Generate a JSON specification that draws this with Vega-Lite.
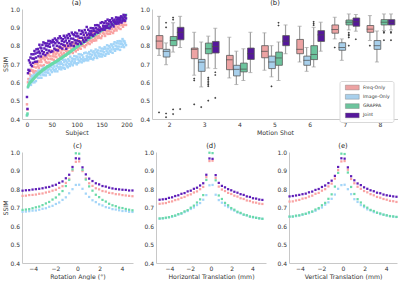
{
"$schema":"https://vega.github.io/schema/vega-lite/v6.json",
"padding":{"left":2,"top":0,"right":0,"bottom":0},
"background":"white",
"config":{"font":"DejaVu Sans","view":{"stroke":null},
"axis":{"grid":false,"domainColor":"#c8c8c8","domainWidth":1,"ticks":false,"labelFontSize":6,"labelColor":"#333333","titleFontSize":6.2,"titleFontWeight":"normal","titleColor":"#333333","labelPadding":2.5,"titlePadding":1.5,"labelOverlap":false,"labelSeparation":0},
"title":{"fontSize":6.8,"fontWeight":"normal","color":"#222222","offset":-1}},
"datasets":{
"subj":[
{"s":0,"f":0.48,"i":0.42,"g":0.42,"j":0.52},{"s":1,"f":0.452,"i":0.425,"g":0.43,"j":0.455},{"s":2,"f":0.6,"i":0.572,"g":0.575,"j":0.65},{"s":3,"f":0.618,"i":0.58,"g":0.583,"j":0.668},{"s":4,"f":0.605,"i":0.59,"g":0.589,"j":0.72},
{"s":5,"f":0.648,"i":0.61,"g":0.594,"j":0.663},{"s":6,"f":0.617,"i":0.596,"g":0.598,"j":0.708},{"s":7,"f":0.638,"i":0.621,"g":0.601,"j":0.735},{"s":8,"f":0.669,"i":0.586,"g":0.604,"j":0.696},{"s":9,"f":0.635,"i":0.614,"g":0.607,"j":0.753},
{"s":10,"f":0.663,"i":0.635,"g":0.61,"j":0.688},{"s":11,"f":0.626,"i":0.6,"g":0.613,"j":0.73},{"s":12,"f":0.664,"i":0.627,"g":0.616,"j":0.706},{"s":13,"f":0.655,"i":0.617,"g":0.619,"j":0.753},{"s":14,"f":0.685,"i":0.641,"g":0.622,"j":0.729},
{"s":15,"f":0.648,"i":0.6,"g":0.625,"j":0.771},{"s":16,"f":0.702,"i":0.638,"g":0.628,"j":0.712},{"s":17,"f":0.661,"i":0.64,"g":0.631,"j":0.757},{"s":18,"f":0.681,"i":0.607,"g":0.634,"j":0.735},{"s":19,"f":0.707,"i":0.652,"g":0.637,"j":0.78},
{"s":20,"f":0.657,"i":0.633,"g":0.64,"j":0.713},{"s":21,"f":0.701,"i":0.647,"g":0.642,"j":0.762},{"s":22,"f":0.687,"i":0.624,"g":0.645,"j":0.782},{"s":23,"f":0.717,"i":0.664,"g":0.647,"j":0.742},{"s":24,"f":0.678,"i":0.648,"g":0.649,"j":0.768},
{"s":25,"f":0.711,"i":0.625,"g":0.652,"j":0.805},{"s":26,"f":0.734,"i":0.663,"g":0.654,"j":0.758},{"s":27,"f":0.692,"i":0.641,"g":0.656,"j":0.79},{"s":28,"f":0.723,"i":0.658,"g":0.659,"j":0.741},{"s":29,"f":0.711,"i":0.625,"g":0.661,"j":0.785},
{"s":30,"f":0.736,"i":0.672,"g":0.663,"j":0.77},{"s":31,"f":0.689,"i":0.654,"g":0.665,"j":0.804},{"s":32,"f":0.731,"i":0.642,"g":0.667,"j":0.754},{"s":33,"f":0.733,"i":0.681,"g":0.669,"j":0.818},{"s":34,"f":0.694,"i":0.639,"g":0.671,"j":0.764},
{"s":35,"f":0.744,"i":0.676,"g":0.673,"j":0.785},{"s":36,"f":0.722,"i":0.654,"g":0.675,"j":0.813},{"s":37,"f":0.737,"i":0.666,"g":0.677,"j":0.748},{"s":38,"f":0.71,"i":0.638,"g":0.679,"j":0.8},{"s":39,"f":0.755,"i":0.674,"g":0.681,"j":0.778},
{"s":40,"f":0.735,"i":0.654,"g":0.683,"j":0.812},{"s":41,"f":0.707,"i":0.689,"g":0.685,"j":0.76},{"s":42,"f":0.751,"i":0.666,"g":0.686,"j":0.797},{"s":43,"f":0.727,"i":0.652,"g":0.688,"j":0.826},{"s":44,"f":0.747,"i":0.683,"g":0.69,"j":0.773},
{"s":45,"f":0.708,"i":0.673,"g":0.691,"j":0.81},{"s":46,"f":0.763,"i":0.642,"g":0.693,"j":0.794},{"s":47,"f":0.743,"i":0.693,"g":0.695,"j":0.825},{"s":48,"f":0.728,"i":0.665,"g":0.697,"j":0.766},{"s":49,"f":0.774,"i":0.684,"g":0.698,"j":0.818},
{"s":50,"f":0.726,"i":0.656,"g":0.7,"j":0.819},{"s":51,"f":0.768,"i":0.701,"g":0.702,"j":0.769},{"s":52,"f":0.742,"i":0.675,"g":0.703,"j":0.831},{"s":53,"f":0.756,"i":0.696,"g":0.705,"j":0.801},{"s":54,"f":0.723,"i":0.666,"g":0.706,"j":0.819},
{"s":55,"f":0.765,"i":0.686,"g":0.708,"j":0.784},{"s":56,"f":0.741,"i":0.66,"g":0.71,"j":0.839},{"s":57,"f":0.781,"i":0.709,"g":0.711,"j":0.813},{"s":58,"f":0.754,"i":0.673,"g":0.713,"j":0.777},{"s":59,"f":0.738,"i":0.704,"g":0.714,"j":0.831},
{"s":60,"f":0.773,"i":0.688,"g":0.716,"j":0.799},{"s":61,"f":0.762,"i":0.66,"g":0.718,"j":0.823},{"s":62,"f":0.726,"i":0.702,"g":0.72,"j":0.774},{"s":63,"f":0.784,"i":0.682,"g":0.721,"j":0.84},{"s":64,"f":0.751,"i":0.712,"g":0.723,"j":0.814},
{"s":65,"f":0.773,"i":0.673,"g":0.725,"j":0.795},{"s":66,"f":0.741,"i":0.699,"g":0.727,"j":0.851},{"s":67,"f":0.792,"i":0.684,"g":0.729,"j":0.79},{"s":68,"f":0.762,"i":0.711,"g":0.73,"j":0.841},{"s":69,"f":0.786,"i":0.671,"g":0.732,"j":0.809},
{"s":70,"f":0.751,"i":0.701,"g":0.734,"j":0.826},{"s":71,"f":0.775,"i":0.681,"g":0.736,"j":0.784},{"s":72,"f":0.745,"i":0.723,"g":0.738,"j":0.836},{"s":73,"f":0.801,"i":0.695,"g":0.74,"j":0.805},{"s":74,"f":0.759,"i":0.679,"g":0.742,"j":0.854},
{"s":75,"f":0.794,"i":0.711,"g":0.744,"j":0.821},{"s":76,"f":0.776,"i":0.674,"g":0.745,"j":0.8},{"s":77,"f":0.745,"i":0.723,"g":0.747,"j":0.844},{"s":78,"f":0.792,"i":0.697,"g":0.749,"j":0.828},{"s":79,"f":0.77,"i":0.717,"g":0.751,"j":0.783},
{"s":80,"f":0.804,"i":0.688,"g":0.753,"j":0.855},{"s":81,"f":0.759,"i":0.708,"g":0.755,"j":0.814},{"s":82,"f":0.789,"i":0.682,"g":0.757,"j":0.841},{"s":83,"f":0.771,"i":0.727,"g":0.759,"j":0.799},{"s":84,"f":0.802,"i":0.699,"g":0.761,"j":0.863},
{"s":85,"f":0.757,"i":0.718,"g":0.763,"j":0.825},{"s":86,"f":0.791,"i":0.689,"g":0.765,"j":0.854},{"s":87,"f":0.769,"i":0.74,"g":0.767,"j":0.811},{"s":88,"f":0.816,"i":0.709,"g":0.769,"j":0.839},{"s":89,"f":0.784,"i":0.699,"g":0.771,"j":0.801},
{"s":90,"f":0.766,"i":0.73,"g":0.773,"j":0.871},{"s":91,"f":0.802,"i":0.715,"g":0.775,"j":0.818},{"s":92,"f":0.76,"i":0.693,"g":0.777,"j":0.862},{"s":93,"f":0.816,"i":0.727,"g":0.779,"j":0.838},{"s":94,"f":0.786,"i":0.706,"g":0.781,"j":0.798},
{"s":95,"f":0.81,"i":0.743,"g":0.783,"j":0.857},{"s":96,"f":0.776,"i":0.714,"g":0.785,"j":0.829},{"s":97,"f":0.799,"i":0.726,"g":0.787,"j":0.871},{"s":98,"f":0.769,"i":0.704,"g":0.789,"j":0.813},{"s":99,"f":0.82,"i":0.741,"g":0.791,"j":0.851},
{"s":100,"f":0.788,"i":0.698,"g":0.793,"j":0.828},{"s":101,"f":0.81,"i":0.738,"g":0.795,"j":0.866},{"s":102,"f":0.778,"i":0.725,"g":0.797,"j":0.809},{"s":103,"f":0.836,"i":0.706,"g":0.799,"j":0.851},{"s":104,"f":0.801,"i":0.753,"g":0.801,"j":0.824},
{"s":105,"f":0.789,"i":0.719,"g":0.803,"j":0.883},{"s":106,"f":0.825,"i":0.736,"g":0.804,"j":0.843},{"s":107,"f":0.809,"i":0.714,"g":0.806,"j":0.82},{"s":108,"f":0.783,"i":0.752,"g":0.808,"j":0.864},{"s":109,"f":0.823,"i":0.727,"g":0.81,"j":0.811},
{"s":110,"f":0.8,"i":0.709,"g":0.812,"j":0.881},{"s":111,"f":0.842,"i":0.748,"g":0.814,"j":0.843},{"s":112,"f":0.809,"i":0.723,"g":0.816,"j":0.872},{"s":113,"f":0.823,"i":0.736,"g":0.817,"j":0.83},{"s":114,"f":0.798,"i":0.716,"g":0.819,"j":0.859},
{"s":115,"f":0.84,"i":0.759,"g":0.821,"j":0.821},{"s":116,"f":0.792,"i":0.725,"g":0.823,"j":0.885},{"s":117,"f":0.837,"i":0.725,"g":0.825,"j":0.844},{"s":118,"f":0.823,"i":0.762,"g":0.826,"j":0.871},{"s":119,"f":0.803,"i":0.72,"g":0.828,"j":0.83},
{"s":120,"f":0.857,"i":0.742,"g":0.83,"j":0.902},{"s":121,"f":0.818,"i":0.731,"g":0.832,"j":0.858},{"s":122,"f":0.838,"i":0.757,"g":0.834,"j":0.843},{"s":123,"f":0.813,"i":0.72,"g":0.835,"j":0.887},{"s":124,"f":0.857,"i":0.739,"g":0.837,"j":0.866},
{"s":125,"f":0.829,"i":0.765,"g":0.839,"j":0.844},{"s":126,"f":0.809,"i":0.729,"g":0.841,"j":0.879},{"s":127,"f":0.854,"i":0.753,"g":0.843,"j":0.858},{"s":128,"f":0.827,"i":0.738,"g":0.844,"j":0.896},{"s":129,"f":0.842,"i":0.773,"g":0.846,"j":0.867},
{"s":130,"f":0.819,"i":0.728,"g":0.848,"j":0.88},{"s":131,"f":0.87,"i":0.748,"g":0.85,"j":0.858},{"s":132,"f":0.83,"i":0.763,"g":0.852,"j":0.895},{"s":133,"f":0.832,"i":0.725,"g":0.853,"j":0.853},{"s":134,"f":0.874,"i":0.769,"g":0.855,"j":0.893},
{"s":135,"f":0.827,"i":0.734,"g":0.857,"j":0.881},{"s":136,"f":0.853,"i":0.758,"g":0.859,"j":0.863},{"s":137,"f":0.84,"i":0.748,"g":0.861,"j":0.911},{"s":138,"f":0.871,"i":0.779,"g":0.862,"j":0.877},{"s":139,"f":0.829,"i":0.744,"g":0.864,"j":0.895},
{"s":140,"f":0.852,"i":0.766,"g":0.866,"j":0.873},{"s":141,"f":0.883,"i":0.733,"g":0.868,"j":0.912},{"s":142,"f":0.842,"i":0.758,"g":0.869,"j":0.888},{"s":143,"f":0.87,"i":0.774,"g":0.871,"j":0.871},{"s":144,"f":0.853,"i":0.745,"g":0.873,"j":0.91},
{"s":145,"f":0.894,"i":0.757,"g":0.874,"j":0.886},{"s":146,"f":0.843,"i":0.79,"g":0.876,"j":0.9},{"s":147,"f":0.866,"i":0.741,"g":0.878,"j":0.88},{"s":148,"f":0.884,"i":0.771,"g":0.88,"j":0.924},{"s":149,"f":0.841,"i":0.754,"g":0.881,"j":0.89},
{"s":150,"f":0.892,"i":0.784,"g":0.883,"j":0.892},{"s":151,"f":0.853,"i":0.741,"g":0.885,"j":0.928},{"s":152,"f":0.88,"i":0.769,"g":0.886,"j":0.887},{"s":153,"f":0.869,"i":0.751,"g":0.888,"j":0.909},{"s":154,"f":0.904,"i":0.782,"g":0.889,"j":0.898},
{"s":155,"f":0.865,"i":0.764,"g":0.891,"j":0.924},{"s":156,"f":0.891,"i":0.792,"g":0.893,"j":0.887},{"s":157,"f":0.853,"i":0.745,"g":0.894,"j":0.907},{"s":158,"f":0.882,"i":0.784,"g":0.896,"j":0.933},{"s":159,"f":0.901,"i":0.754,"g":0.897,"j":0.897},
{"s":160,"f":0.867,"i":0.772,"g":0.899,"j":0.921},{"s":161,"f":0.881,"i":0.802,"g":0.9,"j":0.906},{"s":162,"f":0.919,"i":0.762,"g":0.902,"j":0.942},{"s":163,"f":0.864,"i":0.784,"g":0.903,"j":0.897},{"s":164,"f":0.899,"i":0.756,"g":0.905,"j":0.917},
{"s":165,"f":0.879,"i":0.798,"g":0.906,"j":0.932},{"s":166,"f":0.914,"i":0.773,"g":0.908,"j":0.894},{"s":167,"f":0.865,"i":0.79,"g":0.909,"j":0.939},{"s":168,"f":0.897,"i":0.766,"g":0.911,"j":0.904},{"s":169,"f":0.876,"i":0.807,"g":0.912,"j":0.928},
{"s":170,"f":0.912,"i":0.779,"g":0.914,"j":0.918},{"s":171,"f":0.891,"i":0.801,"g":0.916,"j":0.949},{"s":172,"f":0.923,"i":0.761,"g":0.917,"j":0.914},{"s":173,"f":0.869,"i":0.791,"g":0.919,"j":0.937},{"s":174,"f":0.914,"i":0.809,"g":0.92,"j":0.905},
{"s":175,"f":0.881,"i":0.78,"g":0.922,"j":0.93},{"s":176,"f":0.901,"i":0.819,"g":0.924,"j":0.942},{"s":177,"f":0.935,"i":0.772,"g":0.925,"j":0.921},{"s":178,"f":0.89,"i":0.8,"g":0.927,"j":0.93},{"s":179,"f":0.915,"i":0.782,"g":0.928,"j":0.954},
{"s":180,"f":0.883,"i":0.814,"g":0.93,"j":0.92},{"s":181,"f":0.931,"i":0.795,"g":0.932,"j":0.942},{"s":182,"f":0.903,"i":0.824,"g":0.933,"j":0.93},{"s":183,"f":0.923,"i":0.781,"g":0.935,"j":0.952},{"s":184,"f":0.895,"i":0.812,"g":0.936,"j":0.921},
{"s":185,"f":0.943,"i":0.795,"g":0.938,"j":0.942},{"s":186,"f":0.911,"i":0.825,"g":0.94,"j":0.929},{"s":187,"f":0.936,"i":0.777,"g":0.941,"j":0.952},{"s":188,"f":0.891,"i":0.81,"g":0.943,"j":0.939},{"s":189,"f":0.925,"i":0.823,"g":0.944,"j":0.96},
{"s":190,"f":0.945,"i":0.794,"g":0.946,"j":0.926},{"s":191,"f":0.912,"i":0.811,"g":0.948,"j":0.954},{"s":192,"f":0.957,"i":0.836,"g":0.951,"j":0.934},{"s":193,"f":0.903,"i":0.803,"g":0.953,"j":0.947},{"s":194,"f":0.936,"i":0.826,"g":0.956,"j":0.968},
{"s":195,"f":0.914,"i":0.792,"g":0.958,"j":0.94},{"s":196,"f":0.951,"i":0.823,"g":0.961,"j":0.956},{"s":197,"f":0.93,"i":0.813,"g":0.963,"j":0.936},{"s":198,"f":0.962,"i":0.94,"g":0.966,"j":0.966},{"s":199,"f":0.913,"i":0.803,"g":0.968,"j":0.949}
],
"rot":[
{"x":-4.95,"f":0.763,"i":0.677,"g":0.687,"j":0.791},{"x":-4.65,"f":0.764,"i":0.678,"g":0.689,"j":0.793},{"x":-4.35,"f":0.767,"i":0.68,"g":0.691,"j":0.794},{"x":-4.05,"f":0.768,"i":0.683,"g":0.696,"j":0.797},{"x":-3.75,"f":0.77,"i":0.684,"g":0.701,"j":0.799},{"x":-3.45,"f":0.774,"i":0.688,"g":0.705,"j":0.801},{"x":-3.15,"f":0.776,"i":0.693,"g":0.713,"j":0.804},{"x":-2.85,"f":0.781,"i":0.696,"g":0.722,"j":0.808},{"x":-2.55,"f":0.785,"i":0.704,"g":0.73,"j":0.811},{"x":-2.25,"f":0.791,"i":0.709,"g":0.743,"j":0.818},{"x":-1.95,"f":0.796,"i":0.719,"g":0.754,"j":0.823},{"x":-1.65,"f":0.806,"i":0.727,"g":0.771,"j":0.833},{"x":-1.35,"f":0.815,"i":0.741,"g":0.789,"j":0.841},{"x":-1.05,"f":0.833,"i":0.755,"g":0.816,"j":0.858},{"x":-0.75,"f":0.855,"i":0.777,"g":0.849,"j":0.877},{"x":-0.45,"f":0.899,"i":0.799,"g":0.906,"j":0.919},{"x":-0.15,"f":0.947,"i":0.822,"g":0.993,"j":0.966},
{"x":0.15,"f":0.949,"i":0.823,"g":0.991,"j":0.964},{"x":0.45,"f":0.897,"i":0.801,"g":0.904,"j":0.917},{"x":0.75,"f":0.857,"i":0.775,"g":0.851,"j":0.879},{"x":1.05,"f":0.831,"i":0.757,"g":0.814,"j":0.856},{"x":1.35,"f":0.817,"i":0.739,"g":0.791,"j":0.843},{"x":1.65,"f":0.804,"i":0.729,"g":0.769,"j":0.831},{"x":1.95,"f":0.798,"i":0.717,"g":0.756,"j":0.825},{"x":2.25,"f":0.789,"i":0.711,"g":0.741,"j":0.816},{"x":2.55,"f":0.786,"i":0.702,"g":0.732,"j":0.813},{"x":2.85,"f":0.779,"i":0.698,"g":0.72,"j":0.807},{"x":3.15,"f":0.777,"i":0.691,"g":0.712,"j":0.803},{"x":3.45,"f":0.772,"i":0.689,"g":0.707,"j":0.8},{"x":3.75,"f":0.771,"i":0.685,"g":0.699,"j":0.798},{"x":4.05,"f":0.767,"i":0.681,"g":0.697,"j":0.796},{"x":4.35,"f":0.765,"i":0.681,"g":0.692,"j":0.795},{"x":4.65,"f":0.763,"i":0.677,"g":0.688,"j":0.792},{"x":4.95,"f":0.761,"i":0.676,"g":0.685,"j":0.792}
],
"hor":[
{"x":-4.95,"f":0.72,"i":0.639,"g":0.641,"j":0.742},{"x":-4.65,"f":0.722,"i":0.641,"g":0.642,"j":0.744},{"x":-4.35,"f":0.724,"i":0.643,"g":0.645,"j":0.746},{"x":-4.05,"f":0.73,"i":0.648,"g":0.647,"j":0.752},{"x":-3.75,"f":0.733,"i":0.65,"g":0.653,"j":0.755},{"x":-3.45,"f":0.74,"i":0.656,"g":0.656,"j":0.762},{"x":-3.15,"f":0.744,"i":0.662,"g":0.664,"j":0.766},{"x":-2.85,"f":0.752,"i":0.666,"g":0.669,"j":0.774},{"x":-2.55,"f":0.757,"i":0.675,"g":0.679,"j":0.778},{"x":-2.25,"f":0.766,"i":0.681,"g":0.686,"j":0.787},{"x":-1.95,"f":0.771,"i":0.692,"g":0.699,"j":0.791},{"x":-1.65,"f":0.781,"i":0.7,"g":0.71,"j":0.801},{"x":-1.35,"f":0.787,"i":0.713,"g":0.727,"j":0.807},{"x":-1.05,"f":0.799,"i":0.724,"g":0.744,"j":0.819},{"x":-0.75,"f":0.811,"i":0.742,"g":0.767,"j":0.831},{"x":-0.45,"f":0.864,"i":0.767,"g":0.849,"j":0.877},{"x":-0.15,"f":0.951,"i":0.82,"g":0.996,"j":0.965},
{"x":0.15,"f":0.953,"i":0.822,"g":0.994,"j":0.963},{"x":0.45,"f":0.86,"i":0.769,"g":0.847,"j":0.875},{"x":0.75,"f":0.813,"i":0.74,"g":0.765,"j":0.833},{"x":1.05,"f":0.797,"i":0.726,"g":0.746,"j":0.817},{"x":1.35,"f":0.789,"i":0.711,"g":0.725,"j":0.809},{"x":1.65,"f":0.779,"i":0.702,"g":0.712,"j":0.799},{"x":1.95,"f":0.773,"i":0.69,"g":0.697,"j":0.793},{"x":2.25,"f":0.764,"i":0.683,"g":0.688,"j":0.785},{"x":2.55,"f":0.759,"i":0.673,"g":0.677,"j":0.78},{"x":2.85,"f":0.75,"i":0.668,"g":0.671,"j":0.772},{"x":3.15,"f":0.746,"i":0.66,"g":0.662,"j":0.768},{"x":3.45,"f":0.738,"i":0.657,"g":0.658,"j":0.76},{"x":3.75,"f":0.735,"i":0.651,"g":0.651,"j":0.757},{"x":4.05,"f":0.728,"i":0.646,"g":0.649,"j":0.75},{"x":4.35,"f":0.726,"i":0.645,"g":0.644,"j":0.748},{"x":4.65,"f":0.721,"i":0.64,"g":0.642,"j":0.743},{"x":4.95,"f":0.719,"i":0.639,"g":0.639,"j":0.741}
],
"ver":[
{"x":-4.95,"f":0.732,"i":0.65,"g":0.651,"j":0.76},{"x":-4.65,"f":0.733,"i":0.652,"g":0.651,"j":0.762},{"x":-4.35,"f":0.738,"i":0.653,"g":0.656,"j":0.765},{"x":-4.05,"f":0.741,"i":0.658,"g":0.657,"j":0.768},{"x":-3.75,"f":0.748,"i":0.66,"g":0.663,"j":0.772},{"x":-3.45,"f":0.751,"i":0.666,"g":0.666,"j":0.775},{"x":-3.15,"f":0.759,"i":0.669,"g":0.674,"j":0.782},{"x":-2.85,"f":0.764,"i":0.677,"g":0.678,"j":0.786},{"x":-2.55,"f":0.774,"i":0.682,"g":0.689,"j":0.795},{"x":-2.25,"f":0.779,"i":0.692,"g":0.697,"j":0.8},{"x":-1.95,"f":0.791,"i":0.7,"g":0.712,"j":0.811},{"x":-1.65,"f":0.799,"i":0.715,"g":0.725,"j":0.819},{"x":-1.35,"f":0.814,"i":0.728,"g":0.747,"j":0.832},{"x":-1.05,"f":0.829,"i":0.747,"g":0.771,"j":0.845},{"x":-0.75,"f":0.856,"i":0.77,"g":0.813,"j":0.871},{"x":-0.45,"f":0.902,"i":0.801,"g":0.887,"j":0.919},{"x":-0.15,"f":0.949,"i":0.821,"g":0.991,"j":0.966},
{"x":0.15,"f":0.951,"i":0.823,"g":0.989,"j":0.964},{"x":0.45,"f":0.904,"i":0.799,"g":0.889,"j":0.917},{"x":0.75,"f":0.854,"i":0.772,"g":0.811,"j":0.869},{"x":1.05,"f":0.831,"i":0.745,"g":0.773,"j":0.847},{"x":1.35,"f":0.812,"i":0.73,"g":0.745,"j":0.83},{"x":1.65,"f":0.801,"i":0.713,"g":0.727,"j":0.821},{"x":1.95,"f":0.789,"i":0.702,"g":0.71,"j":0.809},{"x":2.25,"f":0.782,"i":0.69,"g":0.699,"j":0.801},{"x":2.55,"f":0.772,"i":0.684,"g":0.687,"j":0.793},{"x":2.85,"f":0.766,"i":0.675,"g":0.681,"j":0.788},{"x":3.15,"f":0.757,"i":0.671,"g":0.672,"j":0.78},{"x":3.45,"f":0.753,"i":0.664,"g":0.668,"j":0.777},{"x":3.75,"f":0.746,"i":0.662,"g":0.661,"j":0.77},{"x":4.05,"f":0.742,"i":0.656,"g":0.658,"j":0.766},{"x":4.35,"f":0.736,"i":0.654,"g":0.653,"j":0.763},{"x":4.65,"f":0.734,"i":0.65,"g":0.652,"j":0.76},{"x":4.95,"f":0.73,"i":0.649,"g":0.649,"j":0.758}
],
"box":[
{"shot":2,"m":"Freq-Only","lo":0.747,"q1":0.783,"md":0.825,"q3":0.855,"hi":0.96},
{"shot":2,"m":"Image-Only","lo":0.696,"q1":0.738,"md":0.769,"q3":0.78,"hi":0.815},
{"shot":2,"m":"GRAPPA","lo":0.765,"q1":0.8,"md":0.828,"q3":0.85,"hi":0.925},
{"shot":2,"m":"Joint","lo":0.79,"q1":0.832,"md":0.873,"q3":0.9,"hi":0.96},
{"shot":3,"m":"Freq-Only","lo":0.639,"q1":0.729,"md":0.78,"q3":0.787,"hi":0.873},
{"shot":3,"m":"Image-Only","lo":0.575,"q1":0.66,"md":0.71,"q3":0.725,"hi":0.82},
{"shot":3,"m":"GRAPPA","lo":0.678,"q1":0.756,"md":0.783,"q3":0.814,"hi":0.852},
{"shot":3,"m":"Joint","lo":0.675,"q1":0.76,"md":0.795,"q3":0.823,"hi":0.895},
{"shot":4,"m":"Freq-Only","lo":0.624,"q1":0.669,"md":0.723,"q3":0.747,"hi":0.846},
{"shot":4,"m":"Image-Only","lo":0.588,"q1":0.635,"md":0.671,"q3":0.693,"hi":0.77},
{"shot":4,"m":"GRAPPA","lo":0.61,"q1":0.657,"md":0.672,"q3":0.705,"hi":0.783},
{"shot":4,"m":"Joint","lo":0.653,"q1":0.725,"md":0.756,"q3":0.787,"hi":0.873},
{"shot":5,"m":"Freq-Only","lo":0.666,"q1":0.734,"md":0.769,"q3":0.8,"hi":0.87},
{"shot":5,"m":"Image-Only","lo":0.63,"q1":0.675,"md":0.711,"q3":0.743,"hi":0.8},
{"shot":5,"m":"GRAPPA","lo":0.61,"q1":0.693,"md":0.733,"q3":0.765,"hi":0.82},
{"shot":5,"m":"Joint","lo":0.756,"q1":0.8,"md":0.825,"q3":0.855,"hi":0.913},
{"shot":6,"m":"Freq-Only","lo":0.711,"q1":0.756,"md":0.78,"q3":0.834,"hi":0.906},
{"shot":6,"m":"Image-Only","lo":0.66,"q1":0.693,"md":0.72,"q3":0.743,"hi":0.79},
{"shot":6,"m":"GRAPPA","lo":0.684,"q1":0.724,"md":0.752,"q3":0.8,"hi":0.9},
{"shot":6,"m":"Joint","lo":0.77,"q1":0.823,"md":0.859,"q3":0.882,"hi":0.928},
{"shot":7,"m":"Freq-Only","lo":0.837,"q1":0.868,"md":0.888,"q3":0.913,"hi":0.955},
{"shot":7,"m":"Image-Only","lo":0.72,"q1":0.775,"md":0.79,"q3":0.816,"hi":0.837},
{"shot":7,"m":"GRAPPA","lo":0.886,"q1":0.913,"md":0.928,"q3":0.94,"hi":0.973},
{"shot":7,"m":"Joint","lo":0.879,"q1":0.906,"md":0.93,"q3":0.951,"hi":0.97},
{"shot":8,"m":"Freq-Only","lo":0.828,"q1":0.873,"md":0.89,"q3":0.91,"hi":0.964},
{"shot":8,"m":"Image-Only","lo":0.711,"q1":0.78,"md":0.8,"q3":0.828,"hi":0.88},
{"shot":8,"m":"GRAPPA","lo":0.882,"q1":0.913,"md":0.928,"q3":0.942,"hi":0.973},
{"shot":8,"m":"Joint","lo":0.886,"q1":0.913,"md":0.928,"q3":0.942,"hi":0.973}
],
"out":[
{"shot":2,"m":"Freq-Only","v":0.436},
{"shot":2,"m":"Image-Only","v":0.925},{"shot":2,"m":"Image-Only","v":0.9},{"shot":2,"m":"Image-Only","v":0.43},{"shot":2,"m":"Image-Only","v":0.41},
{"shot":2,"m":"GRAPPA","v":0.953},{"shot":2,"m":"GRAPPA","v":0.942},{"shot":2,"m":"GRAPPA","v":0.452},{"shot":2,"m":"GRAPPA","v":0.427},
{"shot":2,"m":"Joint","v":0.454},
{"shot":3,"m":"Freq-Only","v":0.62},{"shot":3,"m":"Freq-Only","v":0.61},{"shot":3,"m":"Freq-Only","v":0.48},
{"shot":3,"m":"Image-Only","v":0.465},
{"shot":3,"m":"GRAPPA","v":0.626},{"shot":3,"m":"GRAPPA","v":0.617},{"shot":3,"m":"GRAPPA","v":0.606},{"shot":3,"m":"GRAPPA","v":0.597},{"shot":3,"m":"GRAPPA","v":0.588},{"shot":3,"m":"GRAPPA","v":0.579},{"shot":3,"m":"GRAPPA","v":0.5},
{"shot":3,"m":"Joint","v":0.655},{"shot":3,"m":"Joint","v":0.64},{"shot":3,"m":"Joint","v":0.515},
{"shot":5,"m":"Image-Only","v":0.578},
{"shot":5,"m":"GRAPPA","v":0.925},{"shot":5,"m":"GRAPPA","v":0.91},
{"shot":6,"m":"GRAPPA","v":0.93},{"shot":6,"m":"GRAPPA","v":0.92},{"shot":6,"m":"GRAPPA","v":0.912},
{"shot":7,"m":"Freq-Only","v":0.79},
{"shot":7,"m":"GRAPPA","v":0.87},{"shot":7,"m":"GRAPPA","v":0.86},{"shot":7,"m":"GRAPPA","v":0.855},{"shot":7,"m":"GRAPPA","v":0.845},{"shot":7,"m":"GRAPPA","v":0.8},
{"shot":7,"m":"Joint","v":0.835},
{"shot":8,"m":"Freq-Only","v":0.8},
{"shot":8,"m":"GRAPPA","v":0.875},{"shot":8,"m":"GRAPPA","v":0.87},{"shot":8,"m":"GRAPPA","v":0.83},
{"shot":8,"m":"Joint","v":0.875},{"shot":8,"m":"Joint","v":0.87},{"shot":8,"m":"Joint","v":0.83}
]
},
"spacing":7,
"vconcat":[
{"hconcat":[
{"width":109,"height":110,"title":{"text":"(a)"},"data":{"name":"subj"},
"encoding":{"x":{"field":"s","type":"quantitative","scale":{"domain":[-10,209],"nice":false,"zero":false},"axis":{"values":[0,50,100,150,200],"title":"Subject"}}},
"layer":[
{"mark":{"type":"point","shape":"square","filled":true,"size":6,"opacity":1,"color":"#F9A3A3"},"encoding":{"y":{"field":"f","type":"quantitative","title":"SSIM","scale":{"domain":[0.4,1.0],"nice":false,"zero":false},"axis":{"tickCount":7,"values":[0.4,0.5,0.6,0.7,0.8,0.9,1.0],"format":".1f","labelOverlap":false}}}},
{"mark":{"type":"point","shape":"square","filled":true,"size":6,"opacity":1,"color":"#A3D5F8"},"encoding":{"y":{"field":"i","type":"quantitative","title":"SSIM"}}},
{"mark":{"type":"point","shape":"square","filled":true,"size":6,"opacity":1,"color":"#6ADAA9"},"encoding":{"y":{"field":"g","type":"quantitative","title":"SSIM"}}},
{"mark":{"type":"point","shape":"square","filled":true,"size":6,"opacity":1,"color":"#5E1DB8"},"encoding":{"y":{"field":"j","type":"quantitative","title":"SSIM"}}}
]},
{"width":246,"height":110,"title":{"text":"(b)"},
"encoding":{
"x":{"field":"shot","type":"ordinal","scale":{"paddingInner":0.2,"paddingOuter":0.1},"axis":{"labelAngle":0,"title":"Motion Shot"}},
"xOffset":{"field":"m","type":"nominal","scale":{"domain":["Freq-Only","Image-Only","GRAPPA","Joint"]}}},
"layer":[
{"data":{"name":"box"},"mark":{"type":"rule","color":"#a0a0a0","strokeWidth":1.2},"encoding":{"y":{"field":"lo","type":"quantitative","title":null,"scale":{"domain":[0.4,1.0],"nice":false,"zero":false},"axis":{"tickCount":7,"values":[0.4,0.5,0.6,0.7,0.8,0.9,1.0],"format":".1f","labelOverlap":false}},"y2":{"field":"hi"}}},
{"data":{"name":"box"},"mark":{"type":"tick","color":"#a0a0a0","thickness":1,"size":4},"encoding":{"y":{"field":"hi","type":"quantitative","title":null}}},
{"data":{"name":"box"},"mark":{"type":"tick","color":"#a0a0a0","thickness":1,"size":4},"encoding":{"y":{"field":"lo","type":"quantitative","title":null}}},
{"data":{"name":"box"},"mark":{"type":"bar","stroke":"#5a5a5a","strokeWidth":0.8,"width":{"band":0.95}},"encoding":{"y":{"field":"q1","type":"quantitative","title":null},"y2":{"field":"q3"},
"color":{"field":"m","type":"nominal","scale":{"domain":["Freq-Only","Image-Only","GRAPPA","Joint"],"range":["#EDA3A3","#A8D0EC","#6CC49D","#55179B"]},
"legend":{"title":null,"orient":"none","legendX":317.5,"legendY":72,"symbolType":"M-0.2,-0.8H4.4V0.8H-0.2Z","symbolSize":36,"labelFontSize":4.6,"labelOffset":13.5,"rowPadding":2.3,"padding":3,"fillColor":"rgba(255,255,255,0.9)","strokeColor":"#d9d9d9","cornerRadius":2,"symbolStrokeColor":"#777777","symbolStrokeWidth":0.4,"labelColor":"#333333","symbolOpacity":1}}}},
{"data":{"name":"box"},"mark":{"type":"tick","color":"#4a4a4a","thickness":1,"size":6.5},"encoding":{"y":{"field":"md","type":"quantitative","title":null}}},
{"data":{"name":"out"},"mark":{"type":"point","shape":"diamond","filled":true,"color":"#3a3a3a","size":5,"opacity":1},"encoding":{"y":{"field":"v","type":"quantitative","title":null}}}
]}
],"spacing":21,"bounds":"flush"},
{"hconcat":[
{"width":111,"height":111,"title":{"text":"(c)"},"data":{"name":"rot"},
"encoding":{"x":{"field":"x","type":"quantitative","scale":{"domain":[-5,5],"nice":false,"zero":false},"axis":{"values":[-4,-2,0,2,4],"labelExpr":"replace(format(datum.value,'d'),'-','−')","title":"Rotation Angle (°)"}}},
"layer":[
{"mark":{"type":"point","shape":"square","filled":true,"size":5,"opacity":1,"color":"#F9A3A3"},"encoding":{"y":{"field":"f","type":"quantitative","title":"SSIM","scale":{"domain":[0.4,1.0],"nice":false,"zero":false},"axis":{"tickCount":7,"values":[0.4,0.5,0.6,0.7,0.8,0.9,1.0],"format":".1f","labelOverlap":false}}}},
{"mark":{"type":"point","shape":"square","filled":true,"size":5,"opacity":1,"color":"#A3D5F8"},"encoding":{"y":{"field":"i","type":"quantitative","title":"SSIM"}}},
{"mark":{"type":"point","shape":"square","filled":true,"size":5,"opacity":1,"color":"#6ADAA9"},"encoding":{"y":{"field":"g","type":"quantitative","title":"SSIM"}}},
{"mark":{"type":"point","shape":"square","filled":true,"size":5,"opacity":1,"color":"#5E1DB8"},"encoding":{"y":{"field":"j","type":"quantitative","title":"SSIM"}}}
]},
{"width":110,"height":111,"title":{"text":"(d)"},"data":{"name":"hor"},
"encoding":{"x":{"field":"x","type":"quantitative","scale":{"domain":[-5.3,5.3],"nice":false,"zero":false},"axis":{"values":[-4,-2,0,2,4],"labelExpr":"replace(format(datum.value,'d'),'-','−')","title":"Horizontal Translation (mm)"}}},
"layer":[
{"mark":{"type":"point","shape":"square","filled":true,"size":5,"opacity":1,"color":"#F9A3A3"},"encoding":{"y":{"field":"f","type":"quantitative","title":null,"scale":{"domain":[0.4,1.0],"nice":false,"zero":false},"axis":{"tickCount":7,"values":[0.4,0.5,0.6,0.7,0.8,0.9,1.0],"format":".1f","labelOverlap":false}}}},
{"mark":{"type":"point","shape":"square","filled":true,"size":5,"opacity":1,"color":"#A3D5F8"},"encoding":{"y":{"field":"i","type":"quantitative","title":null}}},
{"mark":{"type":"point","shape":"square","filled":true,"size":5,"opacity":1,"color":"#6ADAA9"},"encoding":{"y":{"field":"g","type":"quantitative","title":null}}},
{"mark":{"type":"point","shape":"square","filled":true,"size":5,"opacity":1,"color":"#5E1DB8"},"encoding":{"y":{"field":"j","type":"quantitative","title":null}}}
]},
{"width":108,"height":111,"title":{"text":"(e)"},"data":{"name":"ver"},
"encoding":{"x":{"field":"x","type":"quantitative","scale":{"domain":[-5,5],"nice":false,"zero":false},"axis":{"values":[-4,-2,0,2,4],"labelExpr":"replace(format(datum.value,'d'),'-','−')","title":"Vertical Translation (mm)"}}},
"layer":[
{"mark":{"type":"point","shape":"square","filled":true,"size":5,"opacity":1,"color":"#F9A3A3"},"encoding":{"y":{"field":"f","type":"quantitative","title":null,"scale":{"domain":[0.4,1.0],"nice":false,"zero":false},"axis":{"tickCount":7,"values":[0.4,0.5,0.6,0.7,0.8,0.9,1.0],"format":".1f","labelOverlap":false}}}},
{"mark":{"type":"point","shape":"square","filled":true,"size":5,"opacity":1,"color":"#A3D5F8"},"encoding":{"y":{"field":"i","type":"quantitative","title":null}}},
{"mark":{"type":"point","shape":"square","filled":true,"size":5,"opacity":1,"color":"#6ADAA9"},"encoding":{"y":{"field":"g","type":"quantitative","title":null}}},
{"mark":{"type":"point","shape":"square","filled":true,"size":5,"opacity":1,"color":"#5E1DB8"},"encoding":{"y":{"field":"j","type":"quantitative","title":null}}}
]}
],"spacing":23,"bounds":"flush"}
]
}
